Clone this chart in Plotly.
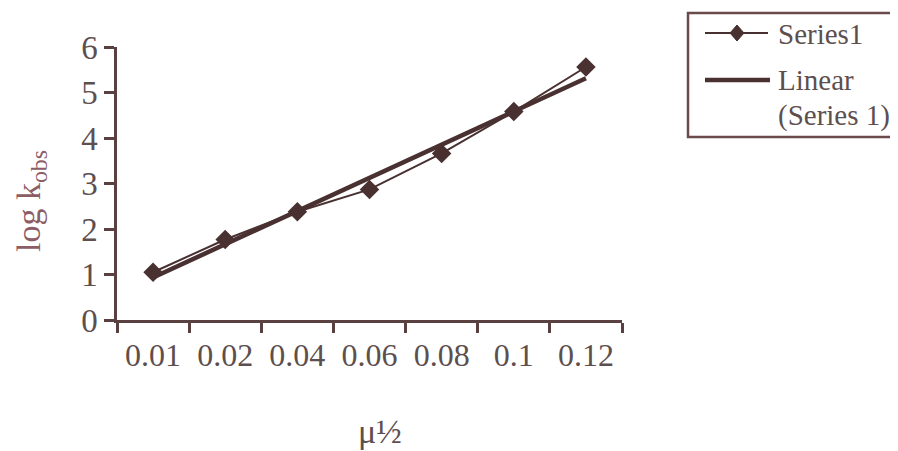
import numpy as np
import plotly.graph_objects as go

categories = ["0.01", "0.02", "0.04", "0.06", "0.08", "0.1", "0.12"]
log_kobs = [1.05, 1.77, 2.38, 2.87, 3.66, 4.58, 5.56]
legend_labels = ["Series1", "Linear", "(Series 1)"]
x_title = "μ½"
y_title = "log k<sub>obs</sub>"

idx = np.arange(1, len(categories) + 1)
slope, intercept = np.polyfit(idx, log_kobs, 1)
trend = (slope * idx + intercept).tolist()

INK = "#4a3131"
AX = "#5a4040"
TXT = "#5e4f4f"
BG = "#ffffff"
FONT = "Liberation Serif, Times New Roman, serif"

# page body has an 8px margin: plot area in reference pixels is x 117..622, y 47..320
W, H = 890, 443
L, T, R, B = 109, 39, 890 - 614, 443 - 312


def px(x):  # reference pixel x -> paper
    return (x - 117) / 505.0


def py(y):  # reference pixel y -> paper
    return (320 - y) / 273.0


fig = go.Figure()
fig.add_trace(go.Scatter(
    x=categories, y=log_kobs, mode="lines+markers", name=legend_labels[0],
    line=dict(color=INK, width=2),
    marker=dict(symbol="diamond", size=15, color=INK),
))
fig.add_trace(go.Scatter(
    x=categories, y=trend, mode="lines", name=" ".join(legend_labels[1:]),
    line=dict(color=INK, width=4.5),
))

shapes = [
    dict(type="rect", xref="paper", yref="paper",
         x0=px(688), x1=px(915), y0=py(137), y1=py(13),
         line=dict(color="#6a4a4a", width=2.5), fillcolor=BG, layer="below"),
    dict(type="line", xref="paper", yref="paper",
         x0=px(705), x1=px(768), y0=py(33), y1=py(33),
         line=dict(color=INK, width=2)),
    dict(type="path", xref="paper", yref="paper",
         path=(f"M {px(737-7)},{py(33)} L {px(737)},{py(33-8)} "
               f"L {px(737+7)},{py(33)} L {px(737)},{py(33+8)} Z"),
         line=dict(color=INK, width=1), fillcolor=INK),
    dict(type="line", xref="paper", yref="paper",
         x0=px(705), x1=px(770), y0=py(80), y1=py(80),
         line=dict(color=INK, width=4.5)),
]
annotations = [
    dict(text=legend_labels[0], x=px(776), y=py(34), xref="paper", yref="paper",
         xanchor="left", yanchor="middle", showarrow=False,
         font=dict(size=29, color=TXT)),
    dict(text=legend_labels[1], x=px(776), y=py(80), xref="paper", yref="paper",
         xanchor="left", yanchor="middle", showarrow=False,
         font=dict(size=29, color=TXT)),
    dict(text=legend_labels[2], x=px(776), y=py(115), xref="paper", yref="paper",
         xanchor="left", yanchor="middle", showarrow=False,
         font=dict(size=29, color=TXT)),
    dict(text=x_title, x=px(380), y=py(432), xref="paper", yref="paper",
         xanchor="center", yanchor="middle", showarrow=False,
         font=dict(size=34, color=TXT)),
    dict(text=y_title, x=px(31), y=py(201), xref="paper", yref="paper",
         xanchor="center", yanchor="middle", showarrow=False, textangle=-90,
         font=dict(size=34, color="#8c5d66")),
]

fig.update_layout(
    width=W, height=H,
    margin=dict(l=L, r=R, t=T, b=B, autoexpand=False),
    paper_bgcolor=BG, plot_bgcolor=BG,
    font=dict(family=FONT, color=TXT, size=32),
    showlegend=False,
    shapes=shapes,
    annotations=annotations,
)
fig.update_xaxes(
    type="category", range=[-0.5, 6.5],
    showline=True, linecolor=AX, linewidth=2.5,
    ticks="outside", ticklen=10, tickwidth=2.5, tickcolor=AX,
    tickson="boundaries", showgrid=False, zeroline=False,
    tickfont=dict(size=32), ticklabelstandoff=5,
)
fig.update_yaxes(
    range=[0, 6], dtick=1,
    showline=True, linecolor=AX, linewidth=2.5,
    ticks="outside", ticklen=10, tickwidth=2.5, tickcolor=AX,
    showgrid=False, zeroline=False,
    tickfont=dict(size=33),
)

fig.write_html("out.html")
